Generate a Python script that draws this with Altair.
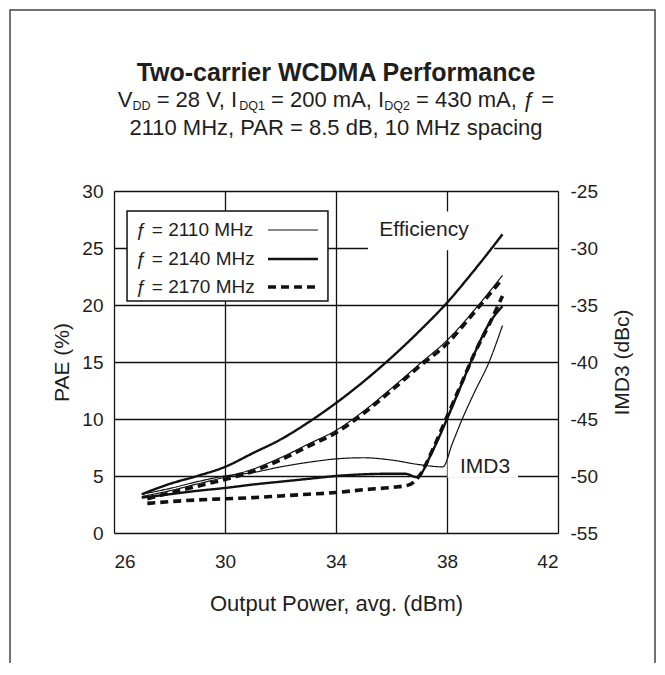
import altair as alt
import pandas as pd

# ---------------- data ----------------
FREQS = ["2110", "2140", "2170"]
LEGEND_LABELS = ["ƒ = 2110 MHz", "ƒ = 2140 MHz", "ƒ = 2170 MHz"]

# Efficiency / PAE (%), left axis
eff_2110_x = [27, 28, 29, 30, 31, 32, 33, 34, 35, 36, 37, 38, 39, 40]
eff_2110_y = [3.2, 3.7, 4.3, 4.9, 5.6, 6.6, 7.8, 9.0, 10.7, 12.7, 14.8, 16.9, 19.6, 22.6]
eff_2140_x = [27, 28, 29, 30, 31, 32, 33, 34, 35, 36, 37, 38, 39, 40]
eff_2140_y = [3.4, 4.3, 5.0, 5.8, 7.0, 8.2, 9.7, 11.4, 13.3, 15.4, 17.7, 20.2, 23.1, 26.2]
eff_2170_x = [27.2, 28, 29, 30, 31, 32, 33, 34, 35, 36, 37, 38, 39, 40]
eff_2170_y = [3.0, 3.5, 4.1, 4.7, 5.4, 6.4, 7.6, 8.8, 10.5, 12.5, 14.6, 16.6, 19.4, 22.3]

# IMD3 (dBc), right axis
imd_2110_x = [27, 28, 29, 30, 31, 32, 33, 34, 35, 36, 37, 37.85, 38.2, 38.55, 39.0, 39.5, 40.0]
imd_2110_y = [-51.6, -51.1, -50.5, -50.0, -49.7, -49.2, -48.8, -48.5, -48.4, -48.6, -49.0,
              -49.2, -47.1, -45.0, -42.6, -40.1, -36.8]
imd_2140_x = [27, 28, 29, 30, 31, 32, 33, 34, 35, 36, 36.5, 36.9, 37.5, 38.0, 38.5, 39.0, 39.5, 40.0]
imd_2140_y = [-51.9, -51.6, -51.3, -51.05, -50.75, -50.5, -50.25, -50.0, -49.85, -49.8, -49.8,
              -50.1, -47.7, -45.0, -42.1, -39.2, -36.7, -35.1]
imd_2170_x = [27.2, 28, 29, 30, 31, 32, 33, 34, 35, 36, 36.6, 37.0, 37.5, 38.0, 38.5, 39.0, 39.5, 40.0]
imd_2170_y = [-52.4, -52.25, -52.1, -52.0, -51.9, -51.75, -51.6, -51.45, -51.2, -51.0, -50.8,
              -50.0, -47.6, -44.8, -42.0, -39.2, -36.8, -34.2]

X_TICKS = [26, 30, 34, 38, 42]
PAE_TICKS = [0, 5, 10, 15, 20, 25, 30]
IMD_TICKS = [-55, -50, -45, -40, -35, -30, -25]

TITLE = "Two-carrier WCDMA Performance"
SUB2 = "2110 MHz, PAR = 8.5 dB, 10 MHz spacing"
# subtitle line 1 pieces: (text, is_subscript)
SUB1 = [("V", False), ("DD", True), (" = 28 V, I", False), ("DQ1", True),
        (" = 200 mA, I", False), ("DQ2", True), (" = 430 mA, ƒ =", False)]

# ---------------- helpers ----------------
W, H = 444, 342
FONT = "Liberation Sans"
INK = "#1e1e1e"

ARIAL = {" ": 278, ",": 278, ".": 278, "=": 584, "-": 333, "(": 333, ")": 333,
         "A": 667, "B": 667, "C": 722, "D": 722, "H": 722, "I": 278, "M": 833, "P": 667,
         "Q": 778, "R": 722, "V": 667, "W": 944, "a": 556, "c": 500, "d": 556, "e": 556,
         "g": 556, "i": 222, "m": 833, "n": 556, "p": 556, "s": 500, "z": 500, "ƒ": 556}
for d in "0123456789":
    ARIAL[d] = 556


def text_w(s, size):
    return sum(ARIAL.get(ch, 556) for ch in s) / 1000.0 * size


rows = []
for f, xs, ys in [("2110", eff_2110_x, eff_2110_y), ("2140", eff_2140_x, eff_2140_y),
                  ("2170", eff_2170_x, eff_2170_y)]:
    for i, (a, b) in enumerate(zip(xs, ys)):
        rows.append({"freq": f, "metric": "eff", "ord": i, "x": a, "y": b})
for f, xs, ys in [("2110", imd_2110_x, imd_2110_y), ("2140", imd_2140_x, imd_2140_y),
                  ("2170", imd_2170_x, imd_2170_y)]:
    for i, (a, b) in enumerate(zip(xs, ys)):
        rows.append({"freq": f, "metric": "imd", "ord": i, "x": a, "y": b})
df = pd.DataFrame(rows)

xscale = alt.Scale(domain=[26, 42], nice=False, zero=False)
pae_scale = alt.Scale(domain=[0, 30], nice=False, zero=False)
imd_scale = alt.Scale(domain=[-55, -25], nice=False, zero=False)
sw_scale = alt.Scale(domain=FREQS, range=[1.2, 3.6, 3.0])
sd_scale = alt.Scale(domain=FREQS, range=[[1, 0], [1, 0], [8, 5]])

x_axis = alt.Axis(values=X_TICKS, grid=True, ticks=False, domain=False,
                  title="Output Power, avg. (dBm)", labelFontSize=19, labelPadding=19,
                  labelColor=INK, titleFontSize=22, titleFontWeight="normal", titleColor=INK,
                  titleX=W / 2, titleY=70, titleBaseline="middle", labelFont=FONT, titleFont=FONT,
                  gridColor="#111", gridWidth=1.3, gridOpacity=1)
pae_axis = alt.Axis(values=PAE_TICKS, grid=True, ticks=False, domain=False, orient="left",
                    title="PAE (%)", labelFontSize=19, labelPadding=11, labelColor=INK,
                    titleFontSize=21, titleFontWeight="normal", titleColor=INK,
                    titleAngle=270, titleX=-52, titleY=H / 2, titleBaseline="middle",
                    titleAlign="center", labelFont=FONT, titleFont=FONT,
                    gridColor="#111", gridWidth=1.3, gridOpacity=1)
imd_axis = alt.Axis(values=IMD_TICKS, grid=False, ticks=False, domain=False, orient="right",
                    title="IMD3 (dBc)", labelFontSize=19, labelPadding=12, labelColor=INK,
                    labelExpr="'' + datum.value",
                    titleFontSize=21, titleFontWeight="normal", titleColor=INK,
                    titleAngle=270, titleX=64, titleY=H / 2, titleBaseline="middle",
                    titleAlign="center", labelFont=FONT, titleFont=FONT)

# annotation boxes (in data units of the left axis)
ann_box = pd.DataFrame({"x": [35.15, 38.02], "x2": [39.7, 40.56], "y": [24.8, 4.85], "y2": [28.2, 6.6]})
leg_box = pd.DataFrame({"x": [26.47], "x2": [33.71], "y": [20.35], "y2": [28.25]})
ann_txt = pd.DataFrame({"x": [37.17, 39.37], "y": [26.6, 5.75], "t": ["Efficiency", "IMD3"]})
leg_df = pd.DataFrame({"freq": FREQS, "label": LEGEND_LABELS,
                       "x": [26.79] * 3, "xa": [31.55] * 3, "xb": [33.35] * 3,
                       "y": [26.58, 24.04, 21.58]})

layers = []
one = pd.DataFrame({"a": [0]})

layers.append(alt.Chart(ann_box).mark_rect(fill="white", stroke=None).encode(
    x=alt.X("x:Q", scale=xscale, axis=x_axis), x2="x2:Q",
    y=alt.Y("y:Q", scale=pae_scale, axis=None), y2="y2:Q"))

layers.append(alt.Chart(leg_box).mark_rect(fill="white", stroke="#111", strokeWidth=1.5).encode(
    x=alt.X("x:Q", scale=xscale, axis=x_axis), x2="x2:Q",
    y=alt.Y("y:Q", scale=pae_scale, axis=None), y2="y2:Q"))

layers.append(alt.Chart(df).transform_filter(alt.datum.metric == "eff").mark_line(
    color="#111", interpolate="monotone", strokeCap="butt").encode(
    x=alt.X("x:Q", scale=xscale, axis=x_axis),
    y=alt.Y("y:Q", scale=pae_scale, axis=pae_axis),
    detail="freq:N", order="ord:Q",
    strokeWidth=alt.StrokeWidth("freq:N", scale=sw_scale, legend=None),
    strokeDash=alt.StrokeDash("freq:N", scale=sd_scale, legend=None)))

layers.append(alt.Chart(df).transform_filter(alt.datum.metric == "imd").mark_line(
    color="#111", interpolate="monotone", strokeCap="butt").encode(
    x=alt.X("x:Q", scale=xscale, axis=x_axis),
    y=alt.Y("y:Q", scale=imd_scale, axis=imd_axis),
    detail="freq:N", order="ord:Q",
    strokeWidth=alt.StrokeWidth("freq:N", scale=sw_scale, legend=None),
    strokeDash=alt.StrokeDash("freq:N", scale=sd_scale, legend=None)))

layers.append(alt.Chart(ann_txt).mark_text(font=FONT, fontSize=21, color=INK,
                                           align="center", baseline="middle").encode(
    x=alt.X("x:Q", scale=xscale, axis=x_axis),
    y=alt.Y("y:Q", scale=pae_scale, axis=None), text="t:N"))

layers.append(alt.Chart(leg_df).mark_text(font=FONT, fontSize=19, color=INK,
                                          align="left", baseline="middle").encode(
    x=alt.X("x:Q", scale=xscale, axis=x_axis),
    y=alt.Y("y:Q", scale=pae_scale, axis=None), text="label:N"))

layers.append(alt.Chart(leg_df).mark_rule(color="#111", strokeCap="butt").encode(
    x=alt.X("xa:Q", scale=xscale, axis=x_axis), x2="xb:Q",
    y=alt.Y("y:Q", scale=pae_scale, axis=None),
    strokeWidth=alt.StrokeWidth("freq:N", scale=sw_scale, legend=None),
    strokeDash=alt.StrokeDash("freq:N", scale=sd_scale, legend=None)))

# outer frame
layers.append(alt.Chart(one).mark_rect(fill=None, stroke="#444", strokeWidth=1.5).encode(
    x=alt.value(-104), x2=alt.value(541), y=alt.value(-181), y2=alt.value(520)))

# titles
layers.append(alt.Chart(one).mark_text(text=TITLE, font=FONT, fontSize=25, fontWeight="bold",
                                       color=INK, align="center", baseline="middle",
                                       x=W / 2, y=-118))
layers.append(alt.Chart(one).mark_text(text=SUB2, font=FONT, fontSize=22, color=INK,
                                       align="center", baseline="middle", x=W / 2, y=-63))
MAIN, SUBS = 22, 12.5
total = sum(text_w(t, SUBS if s else MAIN) for t, s in SUB1)
cx = W / 2 - total / 2
for t, s in SUB1:
    size = SUBS if s else MAIN
    lead = len(t) - len(t.lstrip(" "))
    body = t.lstrip(" ")
    layers.append(alt.Chart(one).mark_text(text=body, font=FONT, fontSize=size, color=INK,
                                           align="left", baseline="middle",
                                           x=cx + text_w(" " * lead, size),
                                           y=(-91 + 6) if s else -91))
    cx += text_w(t, size)

chart = alt.layer(*layers).resolve_scale(y="independent").properties(
    width=W, height=H,
    autosize=alt.AutoSizeParams(type="none"),
    padding={"left": 106, "top": 183, "right": 99, "bottom": 130},
    background="white",
).configure_view(stroke="#111", strokeWidth=1.5).configure(font=FONT)

chart.save("out.html", embed_options={"renderer": "svg", "actions": False})
